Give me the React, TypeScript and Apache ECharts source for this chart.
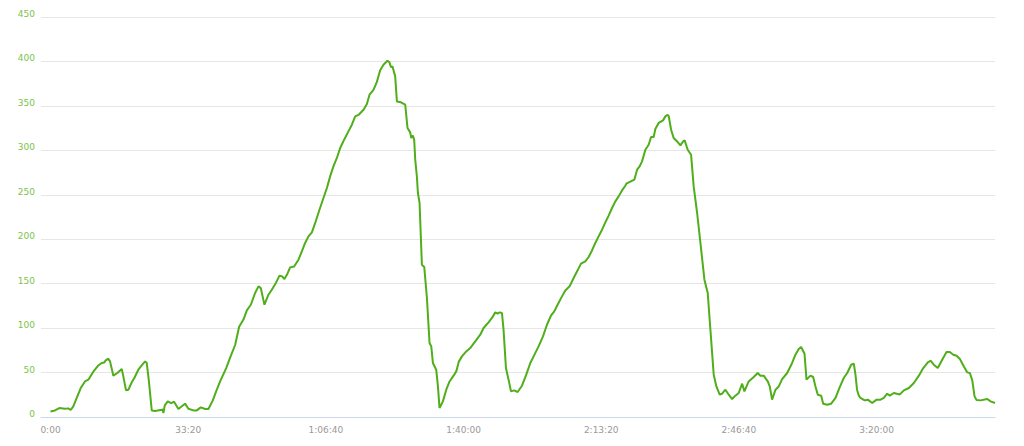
import React, { useEffect, useRef } from "react";
import * as echarts from "echarts";

const timeSeconds: number[] = [
  0, 65, 128, 211, 259, 293, 331, 381, 439, 501, 550, 622, 695, 744, 782, 802, 840, 865, 913, 971,
  1035, 1058, 1097, 1131, 1180, 1218, 1276, 1325, 1374, 1398, 1427, 1471, 1519, 1616, 1630, 1640, 1660,
  1703, 1751, 1795, 1858, 1907, 1955, 2003, 2076, 2125, 2183, 2246, 2294, 2358, 2406, 2464, 2552, 2609,
  2682, 2740, 2803, 2852, 2910, 2972, 3021, 3055, 3108, 3166, 3215, 3278, 3326, 3365, 3398, 3442, 3481,
  3539, 3602, 3651, 3699, 3747, 3797, 3845, 3907, 3965, 4015, 4062, 4110, 4160, 4208, 4266, 4328, 4378,
  4426, 4474, 4547, 4596, 4634, 4692, 4741, 4789, 4837, 4895, 4924, 4945, 4968, 5007, 5032, 5090, 5153,
  5186, 5225, 5240, 5264, 5283, 5298, 5322, 5337, 5361, 5395, 5429, 5468, 5506, 5531, 5555, 5603, 5628,
  5651, 5700, 5749, 5797, 5855, 5894, 5933, 5977, 6039, 6097, 6170, 6243, 6291, 6363, 6413, 6461, 6494,
  6523, 6558, 6581, 6616, 6654, 6689, 6737, 6785, 6849, 6911, 6970, 7018, 7090, 7154, 7212, 7270, 7318,
  7366, 7430, 7478, 7541, 7599, 7657, 7706, 7769, 7817, 7866, 7914, 7962, 8012, 8060, 8108, 8157, 8205,
  8253, 8302, 8350, 8365, 8423, 8481, 8521, 8558, 8593, 8641, 8689, 8724, 8762, 8786, 8834, 8898, 8932,
  8965, 8980, 9015, 9052, 9102, 9150, 9189, 9212, 9256, 9305, 9343, 9393, 9441, 9499, 9547, 9586, 9634,
  9673, 9721, 9756, 9804, 9852, 9901, 9949, 9997, 10047, 10080, 10142, 10215, 10273, 10312, 10360, 10419,
  10448, 10482, 10531, 10579, 10628, 10701, 10773, 10821, 10869, 10904, 10953, 10982, 11039, 11079, 11112,
  11146, 11195, 11224, 11282, 11340, 11403, 11465, 11523, 11573, 11631, 11669, 11693, 11716, 11742, 11766,
  11826, 11872, 11936, 12000, 12058, 12105, 12154, 12192, 12250, 12338, 12396, 12469, 12541, 12614, 12678,
  12744, 12784, 12831, 12889, 12953, 13016, 13064, 13114, 13162, 13210, 13268, 13318, 13355, 13390, 13423,
  13452, 13510, 13608, 13656, 13720,
];

const powerValues: number[] = [
  6.3, 7.4, 10, 9.3, 9.7, 7.9, 12, 21.4, 32.6, 40, 42, 51, 58, 60.8, 61.4, 63.7, 65.6, 62.6, 46.5, 49.5,
  54, 45.7, 30, 30.7, 39, 43.9, 53.2, 58, 62.6, 60.8, 42, 7.4, 6.7, 8.2, 8.5, 4.5, 13,
  17.6, 15.7, 17.2, 9, 12, 15, 9.3, 7.4, 7.4, 10.8, 9, 9, 18.7, 28.8, 40, 55, 66.7,
  81, 101.5, 109.6, 120, 126.3, 139.5, 147, 145, 126.3, 137.6, 143.2, 151.4, 159, 158.2, 155.2, 161.2, 168.3,
  169.4, 177, 186.3, 195.8, 203.2, 207.7, 218.3, 233.2, 246.4, 257.6, 270.7, 282, 291.4, 302.6, 312, 321.3, 328.8,
  338.2, 339.8, 345.7, 352.1, 362.6, 368, 377, 390, 396.3, 400.8, 399, 393.8, 394.4, 383.2, 355, 354, 351.3,
  325.1, 320.2, 313.9, 316.5, 312, 289.5, 270.7, 252, 240.8, 171.3, 168.8, 133.9, 83.3, 79.4, 60.8, 53.2, 34.4,
  10.1, 17.6, 30.7, 40, 46.5, 51.3, 62.6, 68.2, 73.8, 77.6, 85, 92.6, 100.1, 106.4, 111.4, 117.7, 116.2,
  117.7, 117, 98.2, 55.1, 42, 28.8, 30, 28.1, 35.2, 47.6, 60.8, 68.2, 79.4, 90.7, 103.8, 114, 118.8,
  126.3, 135.7, 142.4, 147, 156.4, 165, 172.5, 175.1, 180, 187.4, 195.8, 203.2, 210.7, 219, 226.5, 235.1, 242.6,
  248.2, 254.9, 260.2, 262.5, 264.7, 267, 278.2, 282, 287.6, 300.7, 306.3, 315, 315, 324, 330.8, 333.7, 338.2,
  340, 338.6, 323.2, 313.9, 310, 305.6, 310, 311.2, 300.7, 295.1, 259.4, 229.5, 195.8, 154.5, 139.5, 98.2, 47.6,
  34.4, 25.1, 26.2, 30.7, 25.1, 20.2, 24, 27, 37.5, 28.8, 40, 45, 49.5, 46.5, 46.5, 40,
  34.4, 19.5, 30.7, 34.4, 42.7, 49.5, 60.8, 70.1, 76.5, 78.8, 71.2, 42, 46.5, 45, 34.4,
  25.1, 24, 15, 13.8, 15, 21.4, 33.7, 43.9, 49.5, 58.8, 60, 47.6, 30.7, 24, 21.4,
  18.7, 19.5, 15.7, 19.5, 19.5, 21.4, 26.2, 24, 27, 25.4, 30, 32.6, 38.3, 46.5, 55.1,
  61.4, 63.3, 58.8, 55.1, 64.5, 73.1, 73.1, 70.1, 69, 65.3, 56.9, 50.2, 49.5, 41.2, 23.2,
  19.1, 18.7, 20.2, 17.6, 15.7,
];

const xTickSeconds: number[] = [0, 2000, 4000, 6000, 8000, 10000, 12000];
const yTicks: number[] = [0, 50, 100, 150, 200, 250, 300, 350, 400, 450];

function formatTime(sec: number): string {
  const s = Math.round(sec);
  const h = Math.floor(s / 3600);
  const m = Math.floor((s % 3600) / 60);
  const ss = s % 60;
  const p = (n: number) => (n < 10 ? "0" + n : String(n));
  return h > 0 ? `${h}:${p(m)}:${p(ss)}` : `${m}:${p(ss)}`;
}

export default function App() {
  const ref = useRef<HTMLDivElement>(null);
  useEffect(() => {
    if (!ref.current) return;
    const chart = echarts.init(ref.current, null, { renderer: "svg" });
    const data = timeSeconds.map((t, i) => [t, powerValues[i]]);
    chart.setOption({
      animation: false,
      backgroundColor: "#ffffff",
      grid: { left: 41, right: 29, top: 17, bottom: 29 },
      xAxis: {
        type: "value",
        min: -138,
        max: 13720,
        axisLine: { show: true, lineStyle: { color: "#ccd6eb", width: 1 } },
        axisTick: { show: false },
        splitLine: { show: false },
        axisLabel: {
          customValues: xTickSeconds,
          formatter: (v: number) => formatTime(v),
          color: "#999999",
          fontFamily: "DejaVu Sans",
          fontSize: 9,
          margin: 8,
        },
      },
      yAxis: {
        type: "value",
        min: yTicks[0],
        max: yTicks[yTicks.length - 1],
        interval: 50,
        axisLine: { show: false },
        axisTick: { show: false },
        splitLine: { show: true, lineStyle: { color: "#e6e6e6", width: 1 } },
        axisLabel: {
          color: "#7dc24b",
          fontFamily: "DejaVu Sans",
          fontSize: 9,
          margin: 6,
          verticalAlign: "bottom",
          lineHeight: 6,
        },
      },
      series: [
        {
          type: "line",
          data,
          showSymbol: false,
          symbol: "none",
          lineStyle: { color: "#4fae1a", width: 2 },
          z: 3,
        },
      ],
    });
    return () => chart.dispose();
  }, []);
  return (
    <div
      ref={ref}
      style={{ position: "fixed", left: 0, top: 0, width: 1024, height: 446 }}
    />
  );
}
